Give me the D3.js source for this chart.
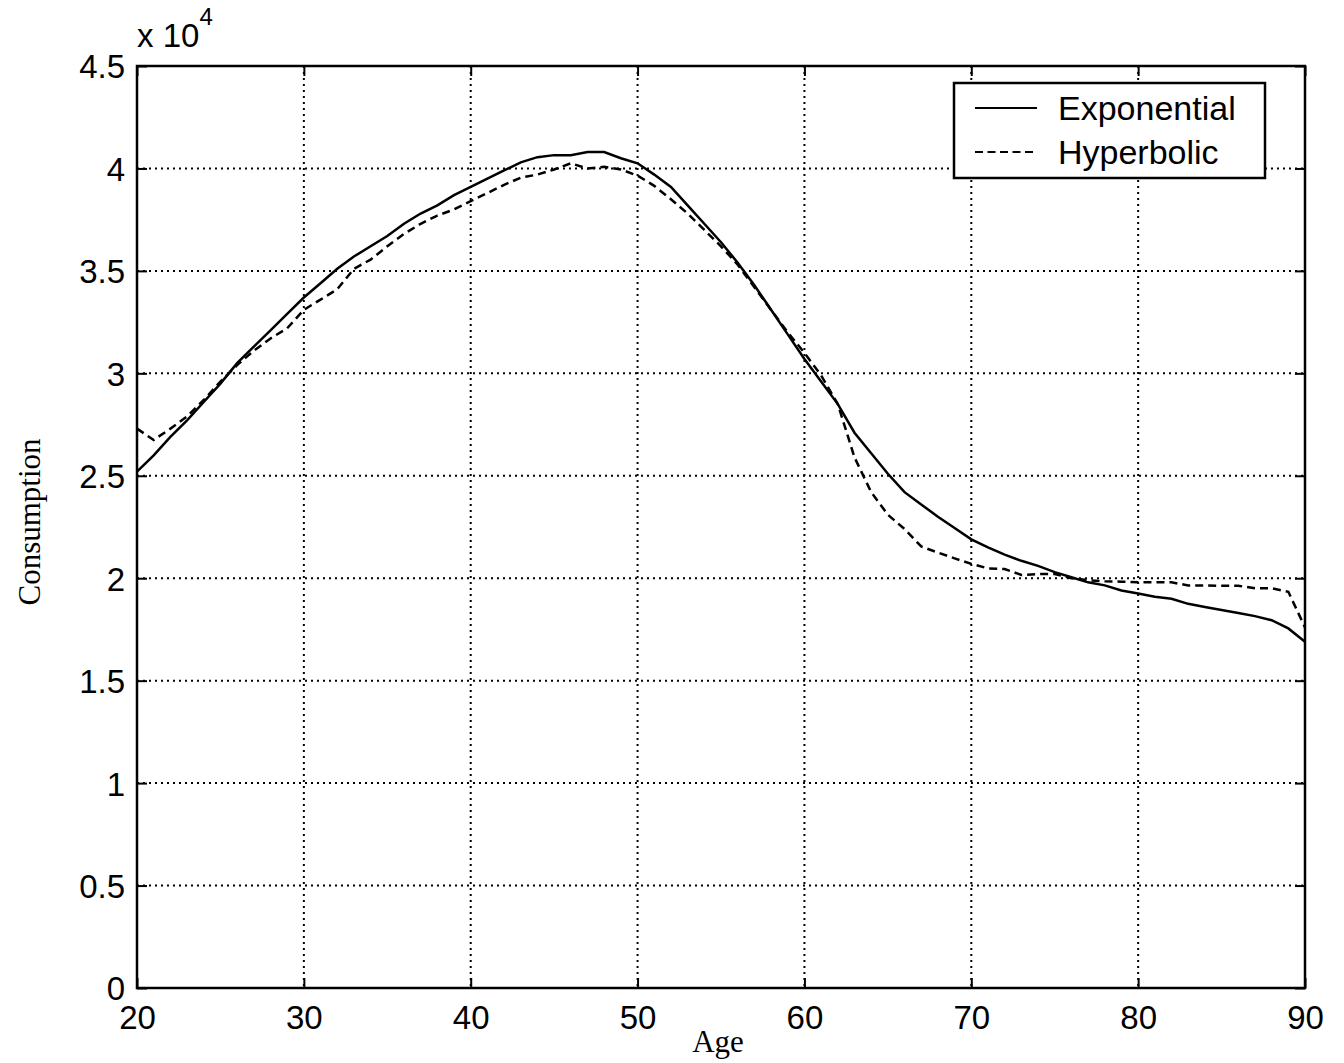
<!DOCTYPE html>
<html><head><meta charset="utf-8">
<script src="https://cdn.jsdelivr.net/npm/d3@7"></script>
<style>body{margin:0;background:#fff}svg{display:block}</style>
</head><body>
<script>
const ages = d3.range(20, 91);
const exponential = [2.52,2.60,2.69,2.77,2.86,2.95,3.05,3.13,3.21,3.29,
 3.37,3.44,3.51,3.57,3.62,3.67,3.73,3.78,3.82,3.87,
 3.91,3.95,3.99,4.03,4.055,4.065,4.065,4.08,4.08,4.05,
 4.025,3.97,3.91,3.82,3.73,3.64,3.54,3.43,3.31,3.19,
 3.07,2.96,2.85,2.71,2.61,2.51,2.42,2.36,2.30,2.245,
 2.19,2.15,2.115,2.085,2.06,2.03,2.005,1.98,1.965,1.94,
 1.925,1.91,1.90,1.875,1.86,1.845,1.83,1.815,1.795,1.755,1.69];
const hyperbolic = [2.73,2.675,2.73,2.79,2.87,2.96,3.04,3.11,3.17,3.22,
 3.31,3.36,3.41,3.51,3.555,3.62,3.68,3.73,3.77,3.80,
 3.84,3.88,3.92,3.955,3.97,3.995,4.025,4.00,4.008,3.995,
 3.965,3.915,3.85,3.78,3.70,3.62,3.53,3.42,3.31,3.20,
 3.10,2.99,2.85,2.59,2.42,2.31,2.24,2.155,2.125,2.097,
 2.07,2.048,2.045,2.016,2.02,2.02,2.00,1.99,1.985,1.983,
 1.98,1.98,1.98,1.965,1.965,1.963,1.963,1.951,1.951,1.934,1.76];
const xTicks = [20,30,40,50,60,70,80,90];
const yTicks = [0,0.5,1,1.5,2,2.5,3,3.5,4,4.5];
const seriesNames = ["Exponential","Hyperbolic"];

const W=1344,H=1063;
const L=137,R=1305,T=66,B=988;
const svg=d3.select("body").append("svg").attr("width",W).attr("height",H);
const x=d3.scaleLinear().domain([20,90]).range([L,R]);
const y=d3.scaleLinear().domain([0,4.5]).range([B,T]);
const sans="'Liberation Sans', Arial, sans-serif";
const serif="'Liberation Serif', 'Times New Roman', serif";

// grid
const g=svg.append("g");
g.selectAll(".vg").data(xTicks.slice(1,-1)).enter().append("line")
 .attr("x1",d=>x(d)).attr("x2",d=>x(d)).attr("y1",T).attr("y2",B)
 .attr("stroke","#000").attr("stroke-width",2).attr("stroke-dasharray","2,4");
g.selectAll(".hg").data(yTicks.slice(1,-1)).enter().append("line")
 .attr("y1",d=>y(d)).attr("y2",d=>y(d)).attr("x1",L).attr("x2",R)
 .attr("stroke","#000").attr("stroke-width",2).attr("stroke-dasharray","2,4");

// axes (ticks inward)
const tl=10;
const xb=svg.append("g").attr("transform",`translate(0,${B})`)
 .call(d3.axisBottom(x).tickValues(xTicks).tickSizeInner(-tl).tickSizeOuter(0).tickPadding(18).tickFormat(d3.format("d")));
const xt=svg.append("g").attr("transform",`translate(0,${T})`)
 .call(d3.axisTop(x).tickValues(xTicks).tickSizeInner(-tl).tickSizeOuter(0).tickFormat(""));
const yl=svg.append("g").attr("transform",`translate(${L},0)`)
 .call(d3.axisLeft(y).tickValues(yTicks).tickSizeInner(-tl).tickSizeOuter(0).tickPadding(12).tickFormat(d=>d3.format("")(d)));
const yr=svg.append("g").attr("transform",`translate(${R},0)`)
 .call(d3.axisRight(y).tickValues(yTicks).tickSizeInner(-tl).tickSizeOuter(0).tickFormat(""));
[xb,xt,yl,yr].forEach(a=>{
 a.select(".domain").remove();
 a.selectAll("line").attr("stroke","#000").attr("stroke-width",2);
 a.selectAll("text").attr("font-family",sans).attr("font-size",33).attr("fill","#000");
});
xb.selectAll("text").attr("dy","0.71em");
yl.selectAll("text").attr("dy","0.36em");
svg.append("rect").attr("x",L).attr("y",T).attr("width",R-L).attr("height",B-T)
 .attr("fill","none").attr("stroke","#000").attr("stroke-width",2.5);

// exponent
const ex=svg.append("text").attr("x",137).attr("y",47).attr("font-family",sans).attr("font-size",33).text("x 10");
ex.append("tspan").attr("dy",-22).attr("font-size",24).text("4");

// lines
const line=d3.line().x((d,i)=>x(ages[i])).y(d=>y(d));
svg.append("path").datum(exponential).attr("d",line).attr("fill","none").attr("stroke","#000").attr("stroke-width",2.5);
svg.append("path").datum(hyperbolic).attr("d",line).attr("fill","none").attr("stroke","#000").attr("stroke-width",2.5).attr("stroke-dasharray","8,5");

// labels
svg.append("text").attr("x",718).attr("y",1052).attr("text-anchor","middle").attr("font-family",serif).attr("font-size",31).text("Age");
svg.append("text").attr("transform","translate(40,522) rotate(-90)").attr("text-anchor","middle").attr("font-family",serif).attr("font-size",31).text("Consumption");

// legend
const lg=svg.append("g");
lg.append("rect").attr("x",954).attr("y",83).attr("width",311).attr("height",95).attr("fill","#fff").attr("stroke","#000").attr("stroke-width",2.5);
const rows=[108,152];
seriesNames.forEach((n,i)=>{
 lg.append("line").attr("x1",975).attr("x2",1037).attr("y1",rows[i]).attr("y2",rows[i])
  .attr("stroke","#000").attr("stroke-width",2).attr("stroke-dasharray",i?"8,4.5":null);
 lg.append("text").attr("x",1058).attr("y",rows[i]).attr("dy","0.36em").attr("font-family",sans).attr("font-size",34).text(n);
});
</script>
</body></html>
